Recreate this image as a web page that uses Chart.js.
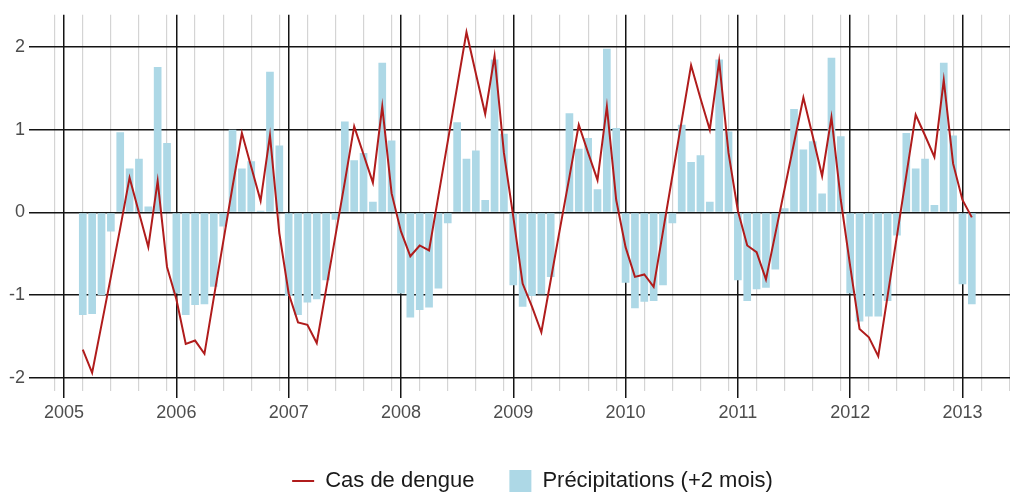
<!DOCTYPE html>
<html>
<head>
<meta charset="utf-8">
<script src="https://cdn.jsdelivr.net/npm/chart.js@4"></script>
<style>
html,body{margin:0;padding:0;overflow:hidden;background:#fff}
#wrap{width:1065px;height:502px;position:relative}
</style>
</head>
<body>
<div id="wrap"><canvas id="c" width="1065" height="502"></canvas></div>
<script>
// ---- data ----
const months = [
  "2005-03","2005-04","2005-05","2005-06","2005-07","2005-08","2005-09","2005-10","2005-11","2005-12",
  "2006-01","2006-02","2006-03","2006-04","2006-05","2006-06","2006-07","2006-08","2006-09","2006-10","2006-11","2006-12",
  "2007-01","2007-02","2007-03","2007-04","2007-05","2007-06","2007-07","2007-08","2007-09","2007-10","2007-11","2007-12",
  "2008-01","2008-02","2008-03","2008-04","2008-05","2008-06","2008-07","2008-08","2008-09","2008-10","2008-11","2008-12",
  "2009-01","2009-02","2009-03","2009-04","2009-05","2009-06","2009-07","2009-08","2009-09","2009-10","2009-11","2009-12",
  "2010-01","2010-02","2010-03","2010-04","2010-05","2010-06","2010-07","2010-08","2010-09","2010-10","2010-11","2010-12",
  "2011-01","2011-02","2011-03","2011-04","2011-05","2011-06","2011-07","2011-08","2011-09","2011-10","2011-11","2011-12",
  "2012-01","2012-02","2012-03","2012-04","2012-05","2012-06","2012-07","2012-08","2012-09","2012-10","2012-11","2012-12",
  "2013-01","2013-02"
];
const dengue = [
  -1.66,-1.94,-1.36,-0.78,-0.19,0.42,0.00,-0.42,0.38,-0.66,
  -1.05,-1.59,-1.55,-1.71,-1.03,-0.36,0.31,0.96,0.55,0.14,0.93,-0.25,
  -0.98,-1.33,-1.36,-1.58,-0.93,-0.28,0.37,1.04,0.70,0.36,1.28,0.23,
  -0.23,-0.53,-0.40,-0.46,0.20,0.86,1.52,2.18,1.68,1.19,1.89,0.72,
  -0.05,-0.86,-1.14,-1.45,-0.82,-0.19,0.43,1.06,0.72,0.39,1.28,0.15,
  -0.42,-0.78,-0.75,-0.90,-0.23,0.44,1.11,1.78,1.38,1.00,1.83,0.72,
  0.02,-0.40,-0.48,-0.81,-0.26,0.29,0.84,1.39,0.92,0.44,1.15,0.15,
  -0.65,-1.41,-1.51,-1.74,-1.01,-0.28,0.45,1.18,0.93,0.67,1.60,0.59,
  0.15,-0.06
];
const precip = [
  -1.24,-1.23,-1.00,-0.23,0.97,0.53,0.65,0.07,1.76,0.84,
  -0.98,-1.24,-1.12,-1.11,-0.90,-0.17,1.00,0.53,0.62,0.02,1.70,0.81,
  -1.01,-1.24,-1.09,-1.05,-0.82,-0.09,1.10,0.63,0.72,0.13,1.81,0.87,
  -0.98,-1.27,-1.18,-1.15,-0.92,-0.13,1.09,0.65,0.75,0.15,1.85,0.95,
  -0.88,-1.14,-1.01,-0.99,-0.78,0.01,1.20,0.77,0.90,0.28,1.98,1.02,
  -0.85,-1.16,-1.08,-1.07,-0.88,-0.13,1.06,0.61,0.69,0.13,1.85,0.98,
  -0.82,-1.07,-0.93,-0.91,-0.69,0.05,1.25,0.76,0.86,0.23,1.87,0.92,
  -0.98,-1.32,-1.26,-1.26,-1.07,-0.28,0.96,0.53,0.65,0.09,1.81,0.93,
  -0.87,-1.11
];
const seriesNames = ["Cas de dengue", "Précipitations (+2 mois)"];
const yearTicks = [2005, 2006, 2007, 2008, 2009, 2010, 2011, 2012, 2013];
const yTicks = [-2, -1, 0, 1, 2];
const minorMonthIdx = [2, 5, 8, 11]; // Mar, Jun, Sep, Dec

// ---- helpers ----
const toYear = s => { const [y, m] = s.split("-").map(Number); return y + (m - 1) / 12; };
const X_MIN = 2004.75, X_MAX = 2013.913, Y_MIN = -2.16, Y_MAX = 2.39;
const minorTicks = [];
for (let y = 2004; y <= 2013; y++) minorMonthIdx.forEach(m => { const v = y + m / 12; if (v > X_MIN && v < X_MAX) minorTicks.push(v); });

const FONT = "'Liberation Sans', Arial, Helvetica, sans-serif";
const LINE_COLOR = "#b01c1c";
const BAR_COLOR = "#add8e6";
const GRID_DARK = "#141414";

new Chart(document.getElementById("c"), {
  type: "bar",
  data: {
    datasets: [
      {
        type: "line",
        label: seriesNames[0],
        data: months.map((m, i) => ({ x: toYear(m), y: dengue[i] })),
        borderColor: LINE_COLOR,
        backgroundColor: LINE_COLOR,
        borderWidth: 2,
        pointRadius: 0,
        tension: 0,
        xAxisID: "x",
        yAxisID: "y"
      },
      {
        type: "bar",
        label: seriesNames[1],
        data: months.map((m, i) => ({ x: toYear(m), y: precip[i] })),
        backgroundColor: BAR_COLOR,
        borderWidth: 0,
        barPercentage: 0.82,
        categoryPercentage: 1,
        xAxisID: "x",
        yAxisID: "y"
      }
    ]
  },
  options: {
    responsive: false,
    animation: false,
    events: [],
    layout: { padding: { top: 14, left: 0, right: 0, bottom: 0 } },
    scales: {
      x: {
        type: "linear",
        position: "bottom",
        min: X_MIN, max: X_MAX,
        offset: false,
        afterBuildTicks: s => { s.ticks = yearTicks.map(v => ({ value: v })); },
        afterFit: s => { s.height = 44; },
        grid: { offset: false, color: GRID_DARK, lineWidth: 1.5, tickLength: 7, tickColor: GRID_DARK, z: -1 },
        border: { display: false },
        ticks: { color: "#4d4d4d", font: { size: 18, family: FONT }, padding: 4, maxRotation: 0, autoSkip: false, callback: v => String(v) }
      },
      x2: {
        type: "linear",
        position: "bottom",
        min: X_MIN, max: X_MAX,
        offset: false,
        afterBuildTicks: s => { s.ticks = minorTicks.map(v => ({ value: v })); },
        afterFit: s => { s.height = 0; },
        grid: { offset: false, color: "#d4d4d4", lineWidth: 1.2, drawTicks: false, z: -2 },
        border: { display: false },
        ticks: { display: false }
      },
      y: {
        type: "linear",
        min: Y_MIN, max: Y_MAX,
        afterBuildTicks: s => { s.ticks = yTicks.map(v => ({ value: v })); },
        afterFit: s => { s.width = 36; },
        grid: { color: GRID_DARK, lineWidth: 1.5, tickLength: 7, tickColor: GRID_DARK, z: -1 },
        border: { display: false },
        ticks: { color: "#4d4d4d", font: { size: 18, family: FONT }, padding: 4, callback: v => String(v) }
      }
    },
    plugins: {
      tooltip: { enabled: false },
      legend: {
        position: "bottom",
        labels: {
          font: { size: 22, family: FONT },
          color: "#1a1a1a",
          usePointStyle: true,
          pointStyleWidth: 22,
          boxHeight: 22,
          padding: 35,
          generateLabels: chart => {
            const items = Chart.defaults.plugins.legend.labels.generateLabels(chart);
            items.forEach(it => {
              if (it.datasetIndex === 0) {
                it.pointStyle = "line"; it.strokeStyle = LINE_COLOR; it.lineWidth = 2;
              } else {
                it.pointStyle = "rect"; it.fillStyle = BAR_COLOR; it.strokeStyle = BAR_COLOR; it.lineWidth = 0;
              }
            });
            return items;
          }
        }
      }
    }
  }
});
</script>
</body>
</html>
